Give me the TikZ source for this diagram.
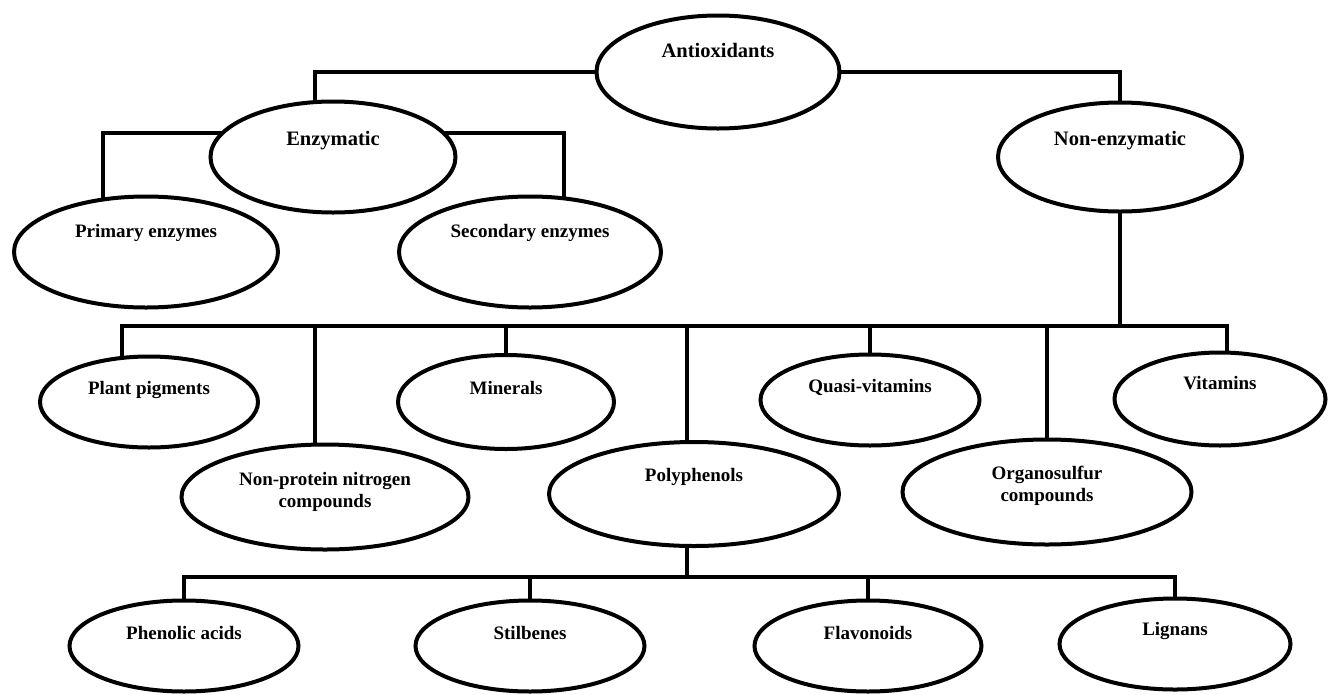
\documentclass[tikz,border=0pt]{standalone}
\usepackage{fontspec}
\setmainfont{Liberation Serif}
\usetikzlibrary{shapes.geometric, positioning}

\begin{document}
\begin{tikzpicture}[x=1pt,y=-1pt,
oval/.style={ellipse,draw,line width=4pt,outer sep=0pt,inner sep=0pt},
ovtxt/.style={font=\fontsize{19}{22}\selectfont\bfseries,align=center,inner sep=0pt},
bigtxt/.style={ovtxt,font=\fontsize{20.5}{24}\selectfont\bfseries},
link/.style={line width=4pt}]
 \useasboundingbox (0,0) rectangle (1328,694);

 \node[oval,minimum width=243,minimum height=113,label={[bigtxt,yshift=21.8pt]center:Antioxidants}] (anti) at (718,72) {};
 \node[oval,minimum width=245,minimum height=111,label={[bigtxt,yshift=16.5pt]center:Enzymatic}] (enz) at (333,157) {};
 \node[oval,minimum width=244,minimum height=109,label={[bigtxt,yshift=16pt]center:Non-enzymatic}] (nonenz) at (1120,157) {};
 \node[oval,minimum width=264,minimum height=111,label={[ovtxt,yshift=19pt]center:Primary enzymes}] (prim) at (146,252) {};
 \node[oval,minimum width=262,minimum height=111,label={[ovtxt,yshift=19pt]center:Secondary enzymes}] (sec) at (530,252) {};

 \node[oval,minimum width=218,minimum height=91,label={[ovtxt,yshift=12.5pt]center:Plant pigments}] (plant) at (149,402) {};
 \node[oval,minimum width=287,minimum height=105,label={[ovtxt,yshift=5pt]center:Non-protein nitrogen\\compounds}] (npn) at (325,497) {};
 \node[oval,minimum width=216,minimum height=94,label={[ovtxt,yshift=14.5pt]center:Minerals}] (min) at (506,402) {};
 \node[oval,minimum width=290,minimum height=104,label={[ovtxt,yshift=17.4pt]center:Polyphenols}] (poly) at (694,494) {};
 \node[oval,minimum width=219,minimum height=91,label={[ovtxt,yshift=12.6pt]center:Quasi-vitamins}] (quasi) at (870,400) {};
 \node[oval,minimum width=289,minimum height=105,label={[ovtxt,yshift=6.5pt]center:Organosulfur\\compounds}] (orgs) at (1047,492) {};
 \node[oval,minimum width=211,minimum height=93,label={[ovtxt,yshift=15.5pt]center:Vitamins}] (vit) at (1220,399) {};

 \node[oval,minimum width=229,minimum height=91,label={[ovtxt,yshift=13.2pt]center:Phenolic acids}] (phen) at (184,646) {};
 \node[oval,minimum width=229,minimum height=91,label={[ovtxt,yshift=13.2pt]center:Stilbenes}] (stil) at (530,646) {};
 \node[oval,minimum width=227,minimum height=91,label={[ovtxt,yshift=13.2pt]center:Flavonoids}] (flav) at (868,646) {};
 \node[oval,minimum width=231,minimum height=91,label={[ovtxt,yshift=13.5pt]center:Lignans}] (lign) at (1175,644) {};

 \coordinate (nbus) at (nonenz.south |- 0,326);
 \coordinate (pbus) at (poly.262 |- 0,577);

 \draw[link] (anti.west) -| (enz.108);
 \draw[link] (anti.east) -| (nonenz.north);
 \draw[link] (enz.168) -| (prim.129);
 \draw[link] (enz.12) -| (sec.58);

 \draw[link] (nonenz.south) -- (nbus);
 \foreach \n/\a in {plant/121,npn/101,min/north,poly/98,quasi/north,orgs/north,vit/81}
 \draw[link] (nbus) -| (\n.\a);

 \draw[link] (poly.262) -- (pbus);
 \foreach \n in {phen,stil,flav,lign}
 \draw[link] (pbus) -| (\n.north);

\end{tikzpicture}
\end{document}
